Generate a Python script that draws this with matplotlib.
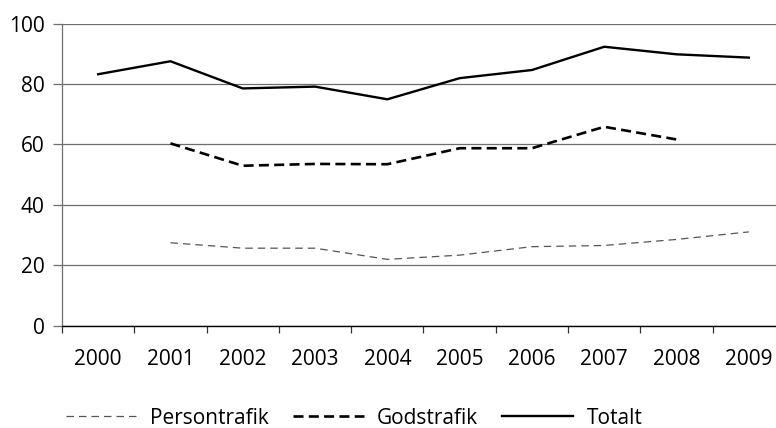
import matplotlib
matplotlib.use("Agg")
import matplotlib.pyplot as plt
import numpy as np

years = ["2000", "2001", "2002", "2003", "2004", "2005", "2006", "2007", "2008", "2009"]
totalt = [83.2, 87.5, 78.5, 79.1, 74.9, 81.9, 84.6, 92.3, 89.8, 88.7]
godstrafik = [None, 60.3, 52.9, 53.5, 53.4, 58.7, 58.7, 65.8, 61.6, None]
persontrafik = [None, 27.4, 25.6, 25.6, 21.9, 23.3, 26.1, 26.5, 28.5, 31.0]

plt.rcParams['font.family'] = ['Open Sans', 'DejaVu Sans']

FS = 15
fig = plt.figure(figsize=(7.76, 4.28), dpi=100)
ax = fig.add_axes([62/776, 1-325.5/428, 723/776, (325.5-23.5)/428])

x = np.arange(len(years))

def arr(v):
    return np.array([np.nan if a is None else a for a in v], dtype=float)

l1, = ax.plot(x, arr(persontrafik), color="#555555", lw=0.9, dashes=(6, 4), label="Persontrafik")
l2, = ax.plot(x, arr(godstrafik), color="black", lw=1.9, dashes=(3.8, 2.0), label="Godstrafik")
l3, = ax.plot(x, arr(totalt), color="black", lw=1.7, label="Totalt")

ax.set_xlim(-0.5, len(years) - 0.5)
ax.set_ylim(0, 100)
ax.set_yticks([0, 20, 40, 60, 80, 100])
ax.yaxis.grid(True, color="#6e6e6e", lw=0.9)
ax.set_axisbelow(True)

ax.set_xticks(x)
ax.set_xticklabels(years, fontsize=FS)
ax.set_xticks(np.arange(-0.5, len(years), 1.0), minor=True)
ax.tick_params(axis='x', which='major', length=0, pad=17)
ax.tick_params(axis='x', which='minor', length=5, width=0.9, color="#333333", direction='out')
ax.tick_params(axis='y', length=6.5, width=0.9, color="#6e6e6e", pad=6, labelsize=FS)

for s in ["right", "top"]:
    ax.spines[s].set_visible(False)
ax.spines["left"].set_color("#6e6e6e")
ax.spines["left"].set_linewidth(0.9)
ax.spines["bottom"].set_color("black")
ax.spines["bottom"].set_linewidth(1.0)

fig.legend(handles=[l1, l2, l3], loc="center", bbox_to_anchor=(354/776, 1 - 418/428),
           ncol=3, frameon=False, fontsize=FS, handlelength=3.4, columnspacing=1.15,
           handletextpad=0.65, borderpad=0)

fig.savefig("out.png", dpi=100)
